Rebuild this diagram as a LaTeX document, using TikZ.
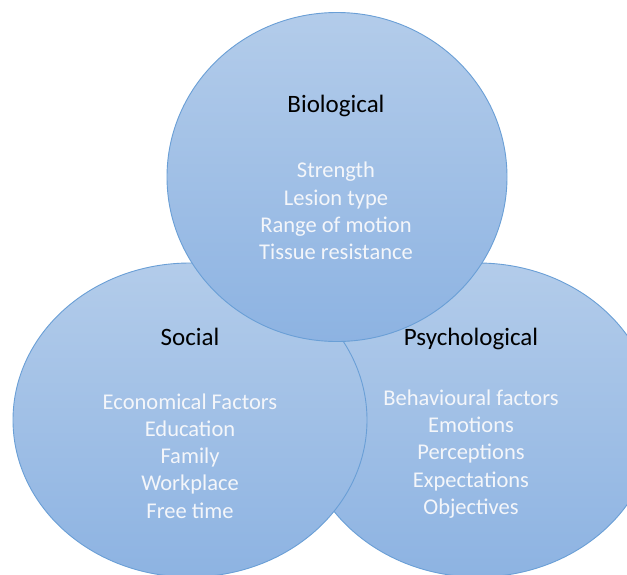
\documentclass[tikz,border=0pt]{standalone}
\usepackage{fontspec}
\setmainfont{Carlito}
\usetikzlibrary{shapes.geometric}
\definecolor{bubtop}{HTML}{B3CCEA}
\definecolor{bubbot}{HTML}{8DB3E2}
\definecolor{bubline}{HTML}{6A9FD6}
\definecolor{itemtxt}{HTML}{F4F6FA}
\tikzset{
  bubble/.style={ellipse,draw=bubline,line width=0.9pt,top color=bubtop,bottom color=bubbot,inner sep=0pt},
  ttl/.style={font=\fontsize{25}{30}\selectfont,text=black},
  items/.style={font=\fontsize{22.5}{27.2}\selectfont,text=itemtxt,align=center}
}
\begin{document}
\begin{tikzpicture}[x=1pt,y=-1pt]
  \useasboundingbox (0,0) rectangle (627,574);
  \clip (0,0) rectangle (627,574);
  \fill[white] (0,0) rectangle (627,574);

  % the three spheres, back to front
  \node[bubble,minimum width=354pt,minimum height=314pt] (psy) at (478,420) {};
  \node[bubble,minimum width=354pt,minimum height=314pt] (soc) at (190,420) {};
  \node[bubble,minimum width=340pt,minimum height=329pt] (bio) at (337,177) {};

  % titles
  \node[ttl] (biot) at (336,106) {Biological};
  \node[ttl] (soct) at (190,337) {Social};
  \node[ttl] (psyt) at (471,339) {Psychological};

  % factor lists
  \node[items] (bioi) at (336,211) {Strength\\Lesion type\\Range of motion\\Tissue resistance};
  \node[items] (soci) at (190,456) {Economical Factors\\Education\\Family\\Workplace\\Free time};
  \node[items] (psyi) at (471,454) {Behavioural factors\\Emotions\\Perceptions\\Expectations\\Objectives};
\end{tikzpicture}
\end{document}
